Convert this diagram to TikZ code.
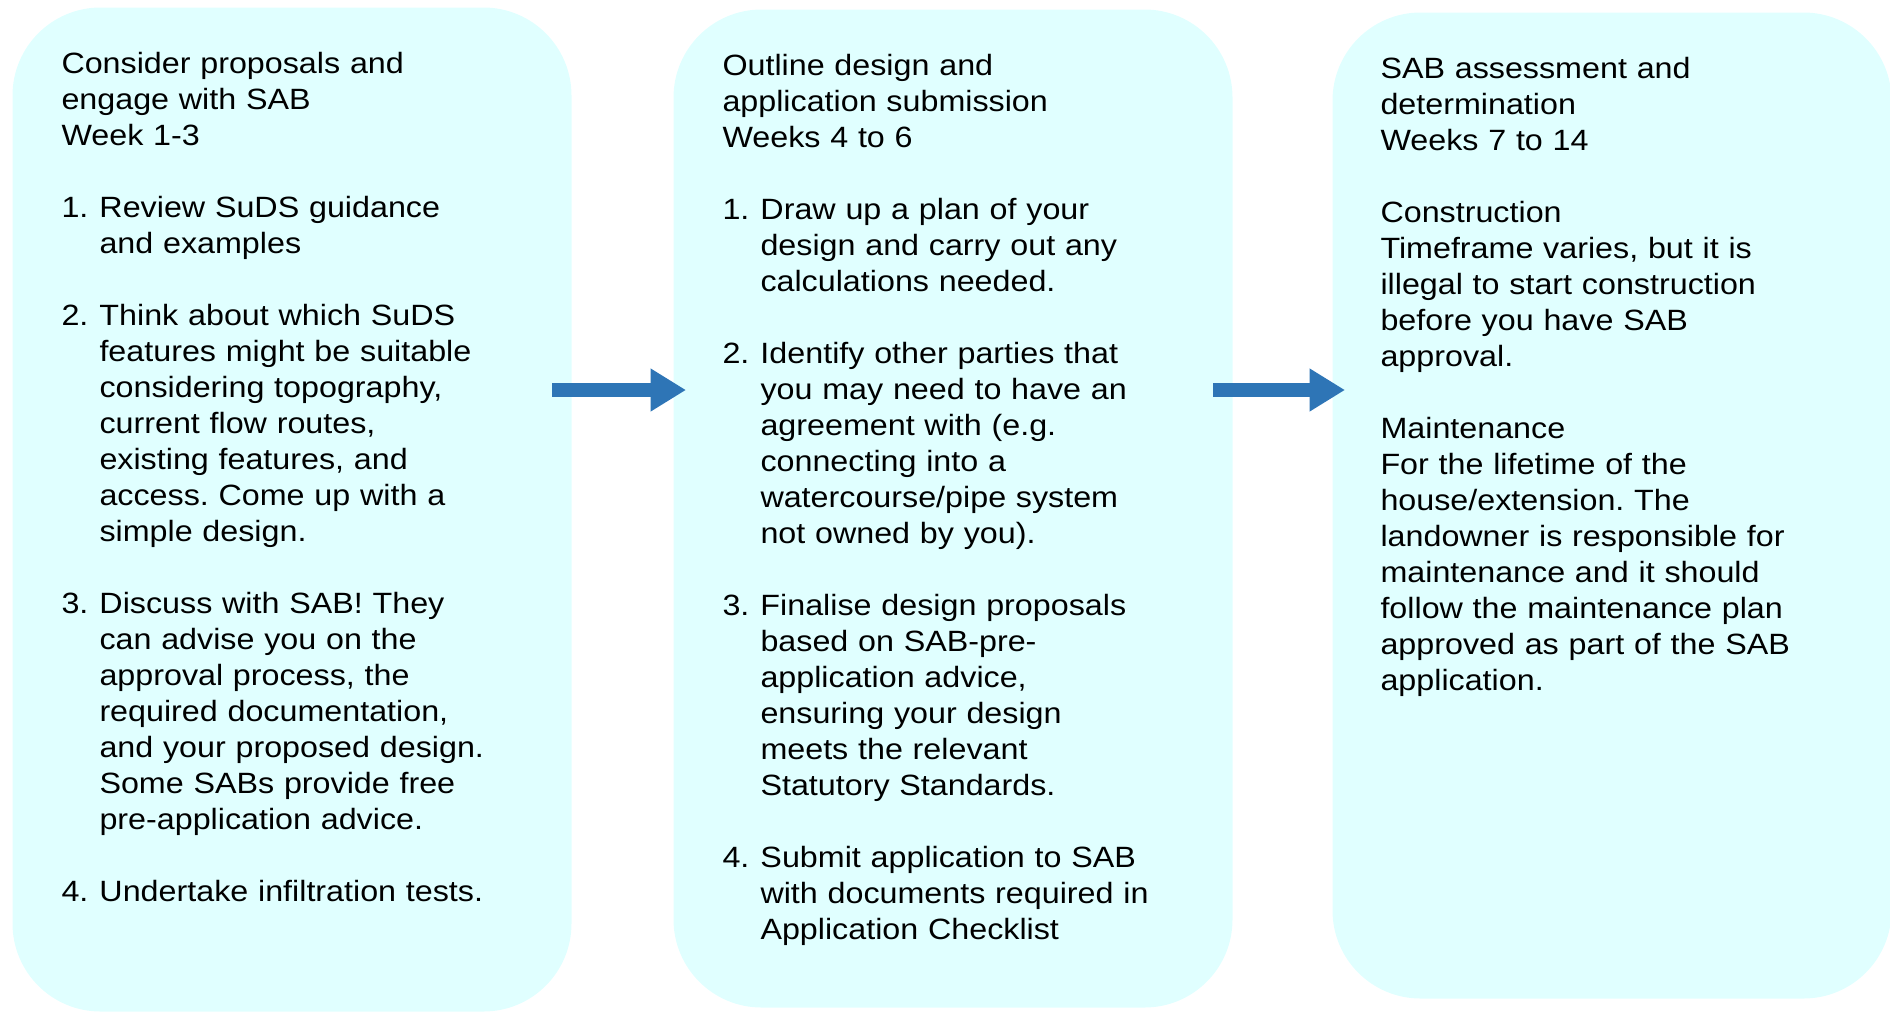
\documentclass[tikz,border=0pt]{standalone}
\usepackage{fontspec}
\setmainfont[FakeStretch=1.1]{Liberation Sans}
\usetikzlibrary{arrows.meta,calc}
\frenchspacing

\definecolor{stagefill}{RGB}{224,255,255}
\definecolor{flowblue}{RGB}{46,117,182}

% hanging indent of the numbered steps
\newlength{\itemhang}
\setlength{\itemhang}{28.5pt}
\newcommand{\itemno}[1]{\makebox[\itemhang][l]{#1}}
\newcommand{\itemind}{\hspace*{\itemhang}}

\tikzset{every picture/.style={line width=0.75pt}}
\tikzset{
	stagebox/.style={rectangle, rounded corners=66pt, fill=stagefill, draw=none, anchor=north west, minimum width=419.25pt, inner sep=0pt},
	stagetext/.style={anchor=north west, inner sep=0pt, text width=360pt, align=left, font={\fontsize{22}{27}\selectfont}},
	flowarrow/.style={draw=flowblue, line width=10.8pt, -{Triangle[length=26.25pt,width=32.5pt,line width=0pt]}},
}

\begin{document}
\begin{tikzpicture}[x=0.75pt,y=0.75pt,yscale=-1,xscale=1]
	\useasboundingbox (0,0) rectangle (1890,1011);

	%Shape: Rounded Rect [id:consider] 
	\node[stagebox, minimum height=753pt] (consider) at (12,7) {};
	%Shape: Rounded Rect [id:outline] 
	\node[stagebox, minimum height=748.5pt] (outline) at (673,9) {};
	%Shape: Rounded Rect [id:assess] 
	\node[stagebox, minimum height=739.5pt] (assess) at (1332,12) {};

	% Text Node
	\node[stagetext] (considertxt) at ($(consider.north west)+(49,41)$) {\strut Consider proposals and\\
		engage with SAB\\
		Week 1-3\\[27pt]
		\itemno{1.}Review SuDS guidance\\
		\itemind and examples\\[27pt]
		\itemno{2.}Think about which SuDS\\
		\itemind features might be suitable\\
		\itemind considering topography,\\
		\itemind current flow routes,\\
		\itemind existing features, and\\
		\itemind access. Come up with a\\
		\itemind simple design.\\[27pt]
		\itemno{3.}Discuss with SAB! They\\
		\itemind can advise you on the\\
		\itemind approval process, the\\
		\itemind required documentation,\\
		\itemind and your proposed design.\\
		\itemind Some SABs provide free\\
		\itemind pre-application advice.\\[27pt]
		\itemno{4.}Undertake infiltration tests.};
	% Text Node
	\node[stagetext] (outlinetxt) at ($(outline.north west)+(49,41)$) {\strut Outline design and\\
		application submission\\
		Weeks 4 to 6\\[27pt]
		\itemno{1.}Draw up a plan of your\\
		\itemind design and carry out any\\
		\itemind calculations needed.\\[27pt]
		\itemno{2.}Identify other parties that\\
		\itemind you may need to have an\\
		\itemind agreement with (e.g.\\
		\itemind connecting into a\\
		\itemind watercourse/pipe system\\
		\itemind not owned by you).\\[27pt]
		\itemno{3.}Finalise design proposals\\
		\itemind based on SAB-pre-\\
		\itemind application advice,\\
		\itemind ensuring your design\\
		\itemind meets the relevant\\
		\itemind Statutory Standards.\\[27pt]
		\itemno{4.}Submit application to SAB\\
		\itemind with documents required in\\
		\itemind Application Checklist};
	% Text Node
	\node[stagetext] (assesstxt) at ($(assess.north west)+(48,41)$) {\strut SAB assessment and\\
		determination\\
		Weeks 7 to 14\\[27pt]
		Construction\\
		Timeframe varies, but it is\\
		illegal to start construction\\
		before you have SAB\\
		approval.\\[27pt]
		Maintenance\\
		For the lifetime of the\\
		house/extension. The\\
		landowner is responsible for\\
		maintenance and it should\\
		follow the maintenance plan\\
		approved as part of the SAB\\
		application.};

	%Straight Lines [id:flow] 
	\coordinate (flowline) at (0,390);
	\draw[flowarrow] ($(consider.east |- flowline)+(-20,0)$) -- ($(outline.west |- flowline)+(12.5,0)$);
	\draw[flowarrow] ($(outline.east |- flowline)+(-20,0)$) -- ($(assess.west |- flowline)+(12.5,0)$);

\end{tikzpicture}
\end{document}
